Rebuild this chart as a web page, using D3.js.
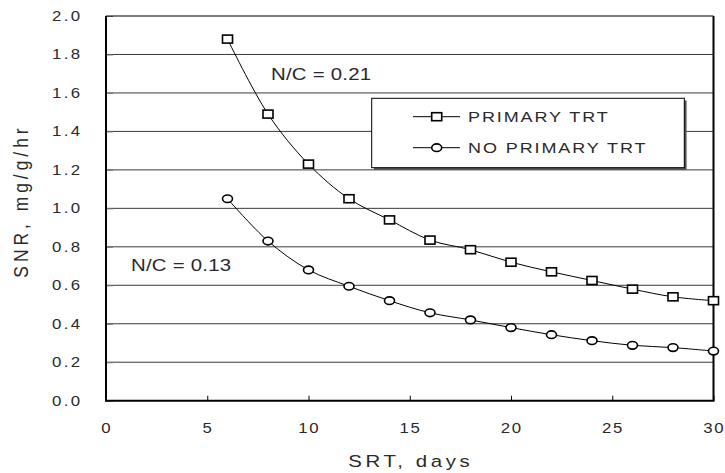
<!DOCTYPE html>
<html lang="en">
<head>
  <meta charset="UTF-8">
  <title>SNR vs SRT</title>
  <style>
    body { margin: 0; background: #fff; }
    text { font-family: Arial, "Liberation Sans", sans-serif; fill: #2a2a2a; }
  </style>
</head>
<body>
  <svg id="chart" width="725" height="473"></svg>
<script src="https://cdn.jsdelivr.net/npm/d3@7/dist/d3.min.js"></script>
<script>
  // values
  let srt = [6, 8, 10, 12, 14, 16, 18, 20, 22, 24, 26, 28, 30]
  let primary = [1.88, 1.49, 1.23, 1.05, 0.94, 0.835, 0.785, 0.72, 0.67, 0.625, 0.58, 0.54, 0.52]
  let noPrimary = [1.05, 0.83, 0.68, 0.595, 0.52, 0.457, 0.42, 0.38, 0.343, 0.312, 0.288, 0.276, 0.258]
  let xTicks = [0, 5, 10, 15, 20, 25, 30]
  let yTicks = [0, 0.2, 0.4, 0.6, 0.8, 1.0, 1.2, 1.4, 1.6, 1.8, 2.0]
  let seriesNames = ["PRIMARY TRT", "NO PRIMARY TRT"]

  let svg = d3.select("#chart")
  let plotLeft = 106, plotRight = 713.5, plotTop = 16, plotBottom = 400.7
  let sx = 1.2 // the original glyphs are a bit wider than Arial

  let x = d3.scaleLinear().domain([0, 30]).range([plotLeft, plotRight])
  let y = d3.scaleLinear().domain([0, 2]).range([plotBottom, plotTop])

  // gridlines
  svg.append("g")
     .selectAll("line")
     .data(yTicks.slice(1, -1))
     .enter()
     .append("line")
     .attr("x1", plotLeft).attr("x2", plotRight)
     .attr("y1", d => y(d)).attr("y2", d => y(d))
     .attr("stroke", "#3a3a3a").attr("stroke-width", 1)

  // y axis
  let yAxis = svg.append("g")
     .attr("transform", `translate(${plotLeft},0)`)
     .call(d3.axisLeft(y).tickValues(yTicks).tickSize(-7).tickFormat(d3.format(".1f")))
  yAxis.select(".domain").remove()
  yAxis.selectAll("line").attr("stroke", "#777")
  yAxis.selectAll("text")
       .attr("x", null).attr("fill", "#2a2a2a").attr("font-size", 14).attr("letter-spacing", 1.9)
       .attr("font-family", "Arial, 'Liberation Sans', sans-serif")
       .attr("transform", `translate(-23.7,0) scale(${sx},1)`)

  // x axis
  let xAxis = svg.append("g")
     .attr("transform", `translate(0,${plotBottom})`)
     .call(d3.axisBottom(x).tickValues(xTicks).tickSize(-5).tickFormat(d3.format("d")))
  xAxis.select(".domain").remove()
  xAxis.selectAll("line").attr("stroke", "#000")
  xAxis.selectAll("text")
       .attr("y", null).attr("dx", 0.3).attr("fill", "#2a2a2a").attr("font-size", 14).attr("letter-spacing", 1.5)
       .attr("font-family", "Arial, 'Liberation Sans', sans-serif")
       .attr("transform", `translate(0,22) scale(${sx},1)`)

  // frame
  svg.append("line").attr("x1", plotLeft).attr("x2", plotRight).attr("y1", plotTop).attr("y2", plotTop)
     .attr("stroke", "#000").attr("stroke-width", 1.2)
  svg.append("path")
     .attr("d", `M${plotLeft},${plotTop}V${plotBottom}H${plotRight}V${plotTop}`)
     .attr("fill", "none").attr("stroke", "#000").attr("stroke-width", 2)

  let line = d3.line().x(d => x(d[0])).y(d => y(d[1])).curve(d3.curveCatmullRom.alpha(0.5))
  let sets = [d3.zip(srt, primary), d3.zip(srt, noPrimary)]

  sets.forEach((pts, i) => {
    svg.append("path").datum(pts)
       .attr("d", line)
       .attr("fill", "none").attr("stroke", "#000").attr("stroke-width", 1)
  })

  function marker(sel, i) {
    if (i == 0) {
      sel.append("rect").attr("x", -5).attr("y", -4).attr("width", 10).attr("height", 8)
         .attr("fill", "#fff").attr("stroke", "#000").attr("stroke-width", 1.6)
    } else {
      sel.append("ellipse").attr("rx", 5).attr("ry", 3.8)
         .attr("fill", "#fff").attr("stroke", "#000").attr("stroke-width", 1.6)
    }
  }

  sets.forEach((pts, i) => {
    svg.append("g").selectAll("g")
       .data(pts)
       .enter()
       .append("g")
       .attr("transform", d => `translate(${x(d[0])},${y(d[1])})`)
       .each(function() { marker(d3.select(this), i) })
  })

  // text stretched sideways like the original
  function wideText(px, py, str, size, spacing, extra) {
    return svg.append("text")
       .attr("transform", `translate(${px},${py}) scale(${sx},1)` + (extra || ""))
       .attr("font-size", size).attr("letter-spacing", spacing)
       .text(str)
  }

  // annotations
  wideText(271, 80, "N/C = 0.21", 17, 0.2)
  wideText(131, 271, "N/C = 0.13", 17, 0.2)

  // legend
  let lg = svg.append("g")
  lg.append("rect").attr("x", 374).attr("y", 100.5).attr("width", 312.6).attr("height", 69.4).attr("fill", "#555")
  lg.append("rect").attr("x", 371.7).attr("y", 98.3).attr("width", 312.6).attr("height", 69.4)
    .attr("fill", "#fff").attr("stroke", "#000").attr("stroke-width", 1)

  let rows = lg.selectAll(".row")
    .data(seriesNames)
    .enter()
    .append("g")
    .attr("transform", (d, i) => `translate(0,${116.7 + i * 31})`)
  rows.append("line").attr("x1", 413).attr("x2", 460).attr("stroke", "#000").attr("stroke-width", 1)
  rows.append("g").attr("transform", "translate(436.7,0)").each(function(d, i) { marker(d3.select(this), i) })
  rows.append("text").attr("transform", `translate(468,0) scale(${sx},1)`)
      .attr("dy", "0.36em").attr("font-size", 15).attr("letter-spacing", 1.6)
      .text(d => d)

  // axis titles
  wideText(409, 467, "SRT, days", 17, 3).attr("text-anchor", "middle").attr("dx", 1.5)
  svg.append("text").attr("transform", `translate(28,203) scale(${sx},1) rotate(-90)`).attr("text-anchor", "middle")
     .attr("font-size", 17.4).attr("letter-spacing", 4).attr("dx", 2)
     .text("SNR, mg/g/hr")
</script>
</body>
</html>
